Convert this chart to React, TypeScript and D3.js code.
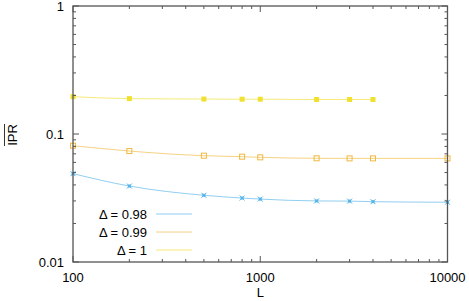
import React from "react";
import * as d3 from "d3";

const sizesL = [100, 200, 500, 800, 1000, 2000, 3000, 4000, 10000];
const ipr098 = [0.049, 0.0392, 0.0332, 0.0316, 0.031, 0.03, 0.0299, 0.0296, 0.0293];
const ipr099 = [0.081, 0.0736, 0.0677, 0.0665, 0.0657, 0.0646, 0.0645, 0.0645, 0.0645];
const sizesL1 = [100, 200, 500, 800, 1000, 2000, 3000, 4000];
const ipr100 = [0.1955, 0.189, 0.1875, 0.187, 0.187, 0.186, 0.186, 0.186];
const xTicks = [100, 1000, 10000];
const yTicks = [0.01, 0.1, 1];
const legendLabels = ["Δ = 0.98", "Δ = 0.99", "Δ = 1"];

const W = 469, H = 301;
const left = 73, right = 447.5, top = 6, bottom = 262;

export default function App() {
  const x = d3.scaleLog().domain([100, 10000]).range([left, right]);
  const y = d3.scaleLog().domain([0.01, 1]).range([bottom, top]);
  const font = "'Liberation Sans', Arial, sans-serif";
  const colors = ["#56b4e9", "#f0b840", "#f0e030"];
  const series = [
    { xs: sizesL, ys: ipr098, color: colors[0], marker: "x" },
    { xs: sizesL, ys: ipr099, color: colors[1], marker: "open" },
    { xs: sizesL1, ys: ipr100, color: colors[2], marker: "filled" },
  ];
  const line = d3
    .line<[number, number]>()
    .x((d) => x(d[0]))
    .y((d) => y(d[1]))
    .curve(d3.curveMonotoneX);

  const minorX: number[] = [];
  for (let dec = 100; dec < 10000; dec *= 10)
    for (let k = 2; k <= 9; k++) minorX.push(dec * k);
  const minorY: number[] = [];
  for (let dec = 0.01; dec < 1; dec *= 10)
    for (let k = 2; k <= 9; k++) minorY.push(dec * k);

  const axisColor = "#555";
  const tickEls: React.ReactNode[] = [];
  xTicks.forEach((t, i) => {
    const px = x(t);
    tickEls.push(<line key={"xb" + i} x1={px} x2={px} y1={bottom} y2={bottom - 6} stroke={axisColor} />);
    tickEls.push(<line key={"xt" + i} x1={px} x2={px} y1={top} y2={top + 6} stroke={axisColor} />);
  });
  minorX.forEach((t, i) => {
    const px = x(t);
    tickEls.push(<line key={"mxb" + i} x1={px} x2={px} y1={bottom} y2={bottom - 3} stroke={axisColor} />);
    tickEls.push(<line key={"mxt" + i} x1={px} x2={px} y1={top} y2={top + 3} stroke={axisColor} />);
  });
  yTicks.forEach((t, i) => {
    const py = y(t);
    tickEls.push(<line key={"yl" + i} x1={left} x2={left + 6} y1={py} y2={py} stroke={axisColor} />);
    tickEls.push(<line key={"yr" + i} x1={right} x2={right - 6} y1={py} y2={py} stroke={axisColor} />);
  });
  minorY.forEach((t, i) => {
    const py = y(t);
    tickEls.push(<line key={"myl" + i} x1={left} x2={left + 3} y1={py} y2={py} stroke={axisColor} />);
    tickEls.push(<line key={"myr" + i} x1={right} x2={right - 3} y1={py} y2={py} stroke={axisColor} />);
  });

  const drawMarker = (kind: string, cx: number, cy: number, color: string, key: string) => {
    if (kind === "filled")
      return <rect key={key} x={cx - 2.5} y={cy - 2.5} width={5} height={5} fill={color} />;
    if (kind === "open")
      return <rect key={key} x={cx - 2.5} y={cy - 2.5} width={5} height={5} fill="none" stroke={color} strokeWidth={1} />;
    return (
      <g key={key} stroke={color} strokeWidth={1}>
        <line x1={cx - 2.5} x2={cx + 2.5} y1={cy - 2.5} y2={cy + 2.5} />
        <line x1={cx - 2.5} x2={cx + 2.5} y1={cy + 2.5} y2={cy - 2.5} />
        <rect x={cx - 1.5} y={cy - 1.5} width={3} height={3} fill={color} stroke="none" />
      </g>
    );
  };

  return (
    <svg width={W} height={H} style={{ position: "absolute", left: 0, top: 0 }} fontFamily={font}>
      <rect width={W} height={H} fill="#fff" />
      {series.map((s, si) => {
        const pts = s.xs.map((v, i) => [v, s.ys[i]] as [number, number]);
        return (
          <g key={si}>
            <path d={line(pts) || ""} fill="none" stroke={s.color} strokeWidth={1} opacity={0.65} />
            {pts.map((p, i) => drawMarker(s.marker, x(p[0]), y(p[1]), s.color, si + "-" + i))}
          </g>
        );
      })}
      {tickEls}
      <rect x={left} y={top} width={right - left} height={bottom - top} fill="none" stroke={axisColor} strokeWidth={1.3} />
      {yTicks.map((t, i) => (
        <text key={"yt" + i} x={left - 9} y={y(t)} dy="0.35em" textAnchor="end" fontSize={13} fill="#000">
          {String(t)}
        </text>
      ))}
      {xTicks.map((t, i) => (
        <text key={"xt" + i} x={x(t)} y={bottom + 15} dy="0.35em" textAnchor="middle" fontSize={13} fill="#000">
          {String(t)}
        </text>
      ))}
      <text x={(left + right) / 2} y={292} dy="0.35em" textAnchor="middle" fontSize={13} fill="#000">L</text>
      <g transform="translate(12,135) rotate(-90)">
        <text x={0} y={0} dy="0.35em" textAnchor="middle" fontSize={13} fill="#000">IPR</text>
        <line x1={-11} x2={11} y1={-7.5} y2={-7.5} stroke="#000" strokeWidth={0.8} />
      </g>
      {legendLabels.map((lab, i) => {
        const ly = 214 + i * 18;
        return (
          <g key={"lg" + i}>
            <text x={147} y={ly} dy="0.35em" textAnchor="end" fontSize={13} fill="#000">{lab}</text>
            <line x1={156} x2={192} y1={ly} y2={ly} stroke={colors[i]} strokeWidth={1} opacity={0.65} />
          </g>
        );
      })}
    </svg>
  );
}
